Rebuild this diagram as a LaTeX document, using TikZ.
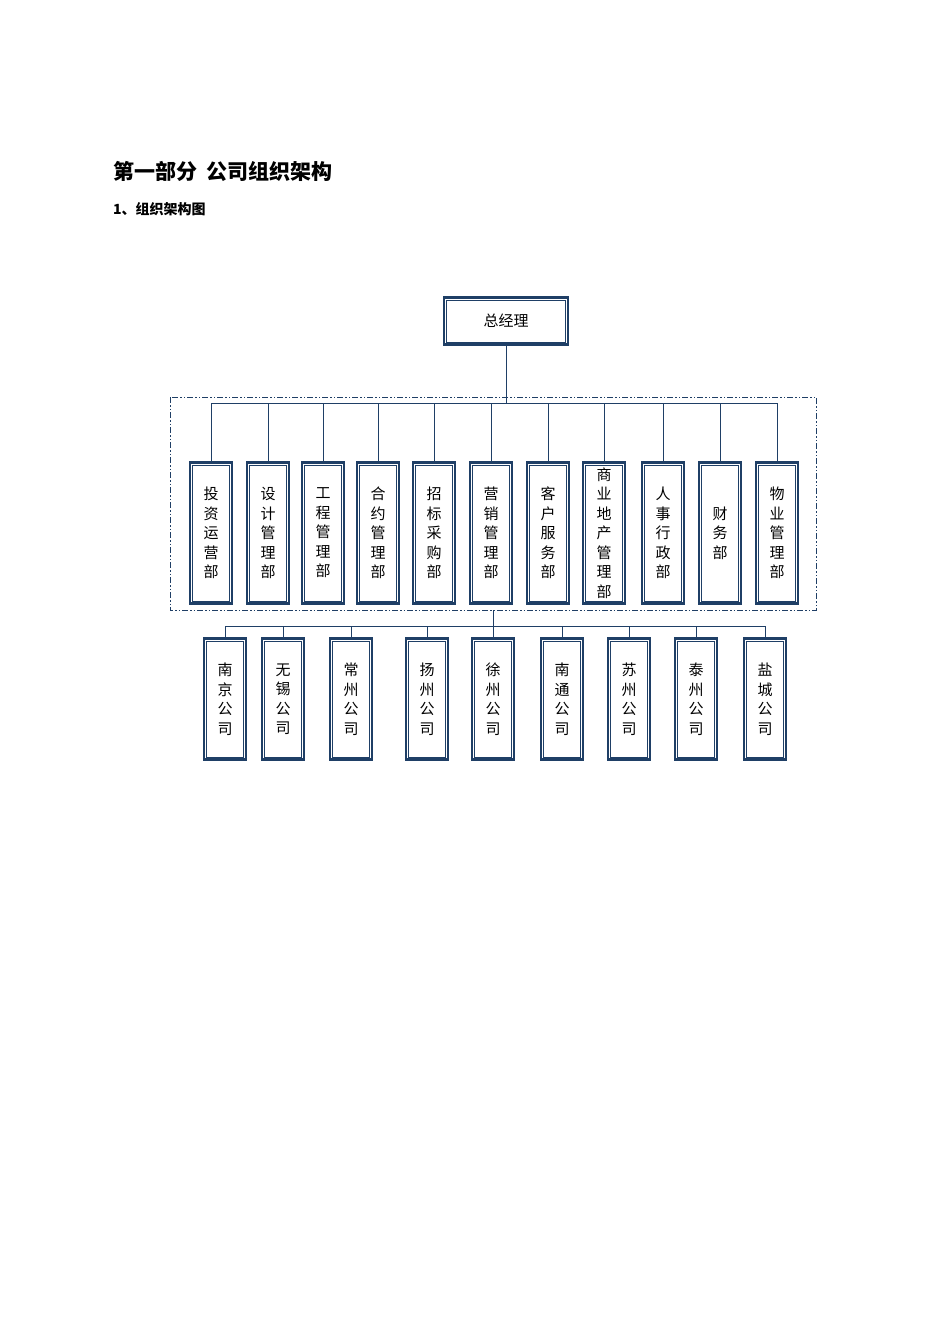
\documentclass[tikz,border=0pt]{standalone}
\usepackage{fontspec}
\setmainfont{Noto Sans CJK SC}
\begin{document}
\begin{tikzpicture}[x=1pt,y=-1pt,
  every node/.style={inner sep=0pt},
  box/.style={draw=bc,line width=2.6pt,fill=white,font=\fontsize{15}{19.5}\selectfont,align=center,text=black},
  inner/.style={draw=bc,line width=0.8pt},
  ln/.style={draw=bc,line width=1pt}]
\definecolor{bc}{HTML}{1F3F66}
\useasboundingbox (0,0) rectangle (950,1344);
\newcommand\bx[6]{%
  \node[box,minimum width=#4pt,minimum height=#5pt] (#1) at (#2,#3) {#6};
  \draw[inner] ([xshift=3.8pt,yshift=-3.8pt]#1.north west) rectangle ([xshift=-3.8pt,yshift=3.8pt]#1.south east);}
\node[anchor=west,font=\bfseries\fontsize{21}{21}\selectfont] (t1) at (113,171) {第一部分\ \ 公司组织架构};
\node[anchor=west,font=\bfseries\fontsize{14}{14}\selectfont] (t2) at (113,209) {1、组织架构图};
\draw[bc,line width=0.8pt,dash pattern=on 6pt off 2pt on 1.5pt off 2pt on 1.5pt off 2pt] (170,397) rectangle (816,610);
\coordinate (dtop) at (506,403);
\coordinate (dbot) at (493,610);
\coordinate (cbus) at (493,626);
\bx{gm}{506}{321}{124}{47}{\fontsize{15}{15}\selectfont 总经理}
\foreach \n/\x/\t in {d1/211/投\\资\\运\\营\\部, d2/268/设\\计\\管\\理\\部, d3/323/工\\程\\管\\理\\部, d4/378/合\\约\\管\\理\\部, d5/434/招\\标\\采\\购\\部, d6/491/营\\销\\管\\理\\部, d7/548/客\\户\\服\\务\\部, d9/663/人\\事\\行\\政\\部, d10/720/财\\务\\部, d11/777/物\\业\\管\\理\\部}{
  \bx{\n}{\x}{533}{42}{141}{\t}
  \draw[ln] (\n.north) -- (\x,403);
}
\bx{d8}{604}{533}{42}{141}{\fontsize{15}{18.6}\selectfont 商\\业\\地\\产\\管\\理\\部}
\draw[ln] (d8.north) -- (604,403);
\draw[ln] (gm.south) -- (dtop);
\draw[ln] (211,403) -- (777,403);
\foreach \n/\x/\t in {c1/225/南\\京\\公\\司, c2/283/无\\锡\\公\\司, c3/351/常\\州\\公\\司, c4/427/扬\\州\\公\\司, c5/493/徐\\州\\公\\司, c6/562/南\\通\\公\\司, c7/629/苏\\州\\公\\司, c8/696/泰\\州\\公\\司, c9/765/盐\\城\\公\\司}{
  \bx{\n}{\x}{699}{42}{121}{\t}
  \draw[ln] (\n.north) -- (\x,626);
}
\draw[ln] (225,626) -- (765,626);
\draw[ln] (dbot) -- (cbus);
\end{tikzpicture}
\end{document}
